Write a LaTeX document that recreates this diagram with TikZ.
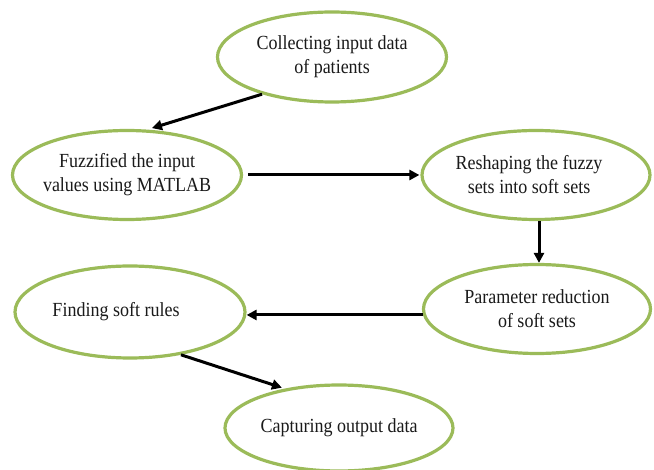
\documentclass[tikz,border=0pt]{standalone}
\usepackage{fontspec}
\setmainfont{Liberation Serif}[FakeStretch=0.9]
\usetikzlibrary{shapes.geometric,arrows.meta}
\definecolor{ellgreen}{HTML}{9BBB59}
\definecolor{txt}{HTML}{1A1A1A}
\tikzset{
  stage/.style={ellipse, draw=ellgreen, line width=3.2pt, inner sep=-20pt, align=center,
    text=txt, font=\fontsize{20}{24}\selectfont},
  arr/.style={draw=black, line width=3pt, -{Triangle[length=10pt,width=10pt]}}
}
\begin{document}
\begin{tikzpicture}[x=1pt,y=-1pt]
\useasboundingbox[fill=white] (0,0) rectangle (654,470);
\node[stage, minimum width=229pt, minimum height=90pt] (c1) at (332,57) {Collecting input data\\of patients};
\node[stage, minimum width=229pt, minimum height=89pt] (c2) at (127,175) {Fuzzified the input\\values using MATLAB};
\node[stage, minimum width=228pt, minimum height=89pt] (c3) at (536,175) {\hspace*{-14pt}Reshaping the fuzzy\\\hspace*{-14pt}sets into soft sets};
\node[stage, minimum width=227pt, minimum height=89pt] (c4) at (537,309) {Parameter reduction\\of soft sets};
\node[stage, minimum width=230pt, minimum height=92pt] (c5) at (130,312) {\hspace*{-28pt}\raisebox{4pt}{Finding soft rules}};
\node[stage, minimum width=228pt, minimum height=86pt] (c6) at (339,428) {Capturing output data};
\draw[arr, shorten >=5pt] (c1.208) -- (c2.66);
\draw[arr, shorten <=5pt, shorten >=1pt] (c2.east) -- (c3.west);
\draw[arr] ([xshift=3pt]c3.south) -- ([xshift=2pt]c4.north);
\draw[arr] (c4.183) -- (c5.east |- c4.183);
\draw[arr, shorten >=3pt] (c5.320) -- (c6.144);
\end{tikzpicture}
\end{document}
